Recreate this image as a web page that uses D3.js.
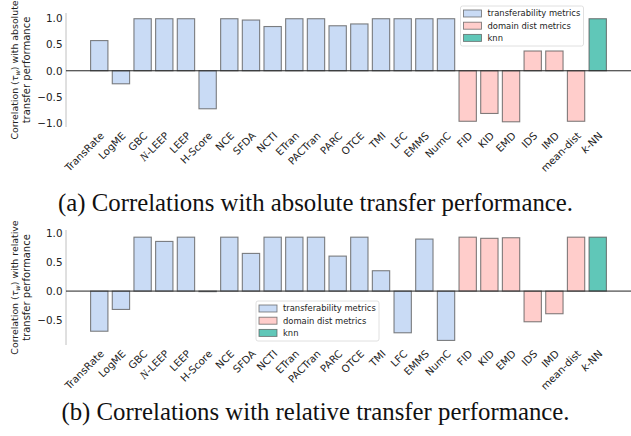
<!DOCTYPE html>
<html><head><meta charset="utf-8">
<script src="https://cdn.jsdelivr.net/npm/d3@7/dist/d3.min.js"></script>
<style>body{margin:0;background:#fff}svg{display:block}</style>
</head><body>
<svg id="c" width="631" height="436"></svg>
<script>
const categories = ["TransRate","LogME","GBC","N-LEEP","LEEP","H-Score","NCE","SFDA","NCTI","ETran","PACTran","PARC","OTCE","TMI","LFC","EMMS","NumC","FID","KID","EMD","IDS","IMD","mean-dist","k-NN"];
const groups = ["t","t","t","t","t","t","t","t","t","t","t","t","t","t","t","t","t","d","d","d","d","d","d","k"];
const absoluteValues = [0.58,-0.25,1.0,1.0,1.0,-0.73,1.0,0.975,0.85,1.0,1.0,0.865,0.90,1.0,1.0,1.0,1.0,-0.97,-0.82,-0.98,0.38,0.38,-0.97,1.0];
const relativeValues = [-0.70,-0.32,0.94,0.866,0.94,-0.01,0.94,0.657,0.94,0.94,0.94,0.61,0.94,0.355,-0.727,0.907,-0.86,0.94,0.92,0.93,-0.535,-0.395,0.94,0.94];
const ticksA = [-1,-0.5,0,0.5,1];
const ticksB = [-0.5,0,0.5,1];
const legendLabels = ["transferability metrics","domain dist metrics","knn"];
const legendKeys = ["t","d","k"];
const captionA = "(a) Correlations with absolute transfer performance.";
const captionB = "(b) Correlations with relative transfer performance.";

const colors = {t:"#c9dbf5", d:"#ffcdcb", k:"#60c7b8"};
const svg = d3.select("#c");
const FONT = "'DejaVu Sans', sans-serif";
const fmt = v => (v<0?"\u2212":"") + Math.abs(v).toFixed(1);

const x = d3.scaleBand().domain(categories).range([66,631]).paddingInner(0.2).paddingOuter(1.135);

function panel(values, yDomain, yRange, ticks, labelLines, legendPos){
  const y = d3.scaleLinear().domain(yDomain).range(yRange);
  const g = svg.append("g");
  g.append("line").attr("x1",66).attr("x2",66).attr("y1",yRange[0]).attr("y2",yRange[1])
    .attr("stroke","#b0b0b0").attr("stroke-width",0.8);
  g.selectAll("text.yt").data(ticks).join("text").attr("class","yt")
    .attr("x",62.5).attr("y",d=>y(d)).attr("dy","0.36em").attr("text-anchor","end")
    .attr("font-family",FONT).attr("font-size",10.4).attr("fill","#222").text(fmt);
  g.selectAll("rect.bar").data(values).join("rect").attr("class","bar")
    .attr("x",(d,i)=>x(categories[i])).attr("width",x.bandwidth())
    .attr("y",d=>y(Math.max(0,d))).attr("height",d=>Math.abs(y(d)-y(0)))
    .attr("fill",(d,i)=>colors[groups[i]]).attr("stroke","#555").attr("stroke-opacity",0.75).attr("stroke-width",1.1);
  g.append("line").attr("x1",66).attr("x2",631).attr("y1",y(0)).attr("y2",y(0))
    .attr("stroke","#222").attr("stroke-width",1);
  const xl = g.selectAll("text.xl").data(categories).join("text").attr("class","xl")
    .attr("text-anchor","end").attr("font-family",FONT).attr("font-size",10.2).attr("fill","#222")
    .attr("transform",d=>`translate(${x(d)+x.bandwidth()/2},${yRange[0]+4}) rotate(-45)`)
    .attr("dy","0.75em");
  xl.each(function(d){
    const t = d3.select(this);
    if(d==="k-NN"){ t.append("tspan").attr("font-style","italic").text("k"); t.append("tspan").text("-NN"); }
    else if(d==="N-LEEP"){ t.append("tspan").attr("font-family","'Liberation Serif', serif").attr("font-style","italic").attr("font-size",11.5).text("N"); t.append("tspan").text("-LEEP"); }
    else t.text(d);
  });
  const cy = (yRange[0]+yRange[1])/2;
  const yl = g.append("text").attr("transform",`translate(18,${cy}) rotate(-90)`)
    .attr("text-anchor","middle").attr("font-family",FONT).attr("font-size",9.4).attr("fill","#222");
  const l1 = yl.append("tspan").attr("x",0).attr("y",0);
  l1.append("tspan").text("Correlation (");
  l1.append("tspan").attr("font-style","italic").text("τ");
  l1.append("tspan").attr("font-style","italic").attr("font-size",6.6).attr("dy","2").text("w");
  l1.append("tspan").attr("dy","-2").text(") " + labelLines[0]);
  yl.append("tspan").attr("x",0).attr("y",11.5).attr("font-size",10).text(labelLines[1]);
  const lg = g.append("g").attr("transform",`translate(${legendPos[0]},${legendPos[1]})`);
  lg.append("rect").attr("width",123).attr("height",40).attr("rx",2).attr("fill","#fff").attr("fill-opacity",0.85)
    .attr("stroke","#d8d8d8").attr("stroke-width",0.8);
  legendKeys.forEach((k,i)=>{
    lg.append("rect").attr("x",3).attr("y",4+i*12.2).attr("width",18).attr("height",7)
      .attr("fill",colors[k]).attr("stroke","#555").attr("stroke-opacity",0.75).attr("stroke-width",0.9);
    lg.append("text").attr("x",27).attr("y",7.5+i*12.2).attr("dy","0.35em")
      .attr("font-family",FONT).attr("font-size",8.4).attr("fill","#222").text(legendLabels[i]);
  });
}

panel(absoluteValues,[-1.08,1.11],[127,13],ticksA,["with absolute","transfer performance"],[460.5,6]);
panel(relativeValues,[-0.94,1.065],[345,230],ticksB,["with relative","transfer performance"],[256,301]);

svg.append("text").attr("x",315.5).attr("y",211).attr("text-anchor","middle")
  .attr("font-family","'Liberation Serif', serif").attr("font-size",24.8).attr("fill","#111").text(captionA);
svg.append("text").attr("x",315.5).attr("y",420).attr("text-anchor","middle")
  .attr("font-family","'Liberation Serif', serif").attr("font-size",24.8).attr("fill","#111").text(captionB);
</script>
</body></html>
